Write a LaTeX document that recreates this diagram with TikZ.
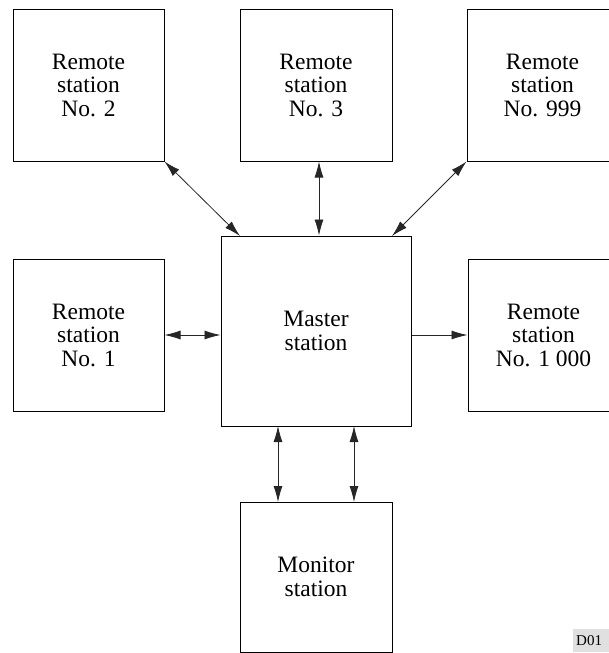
\documentclass[tikz,border=0pt]{standalone}
\usepackage{fontspec}
\setmainfont{Liberation Serif}
\usepackage{tikz}
\usetikzlibrary{arrows.meta}
\tikzset{
    head/.tip={Latex[length=16pt,width=9pt]},
    station/.style={rectangle, draw, line width=1pt, inner sep=0pt, align=center,
        font=\fontsize{23.5}{23.5}\selectfont},
    link/.style={line width=0.8pt, draw=black!85, head-head},
    oneway/.style={line width=0.8pt, draw=black!85, -head}
}

\begin{document}
\begin{tikzpicture}[x=1pt, y=-1pt]
        \useasboundingbox (0,0) rectangle (608,653);
        \node (r2) [station, minimum width=151pt, minimum height=152pt] at (88.5, 85) {Remote\\station\\No. 2};
        \node (r3) [station, minimum width=152pt, minimum height=152pt] at (316, 85) {Remote\\station\\No. 3};
        \node (r999) [station, minimum width=151pt, minimum height=152pt] at (542.5, 85) {Remote\\station\\No. 999};
        \node (r1) [station, minimum width=151pt, minimum height=152pt] at (88.5, 335) {Remote\\station\\No. 1};
        \node (master) [station, minimum width=190pt, minimum height=190pt] at (316, 331) {Master\\station};
        \node (r1000) [station, minimum width=151pt, minimum height=152pt] at (543.5, 335) {Remote\\station\\No. 1 000};
        \node (mon) [station, minimum width=152pt, minimum height=150pt] at (316, 577) {Monitor\\station};
        \coordinate (m2) at (240, 236);
        \coordinate (m999) at (392, 236);
        \coordinate (ma) at (278, 426);
        \coordinate (mb) at (354, 426);
        \coordinate (sa) at (278, 502);
        \coordinate (sb) at (354, 502);
        \draw [link] (r2.south east) -- (m2);
        \draw [link] ([xshift=3pt]r3.south) -- ([xshift=3pt]r3.south |- master.north);
        \draw [link] (r999.south west) -- (m999);
        \draw [link] (r1.east) -- (master.west |- r1.east);
        \draw [oneway] (master.east |- r1000.west) -- (r1000.west);
        \draw [link] (ma) -- (sa);
        \draw [link] (mb) -- (sb);
        \node (code) [fill=black!12, inner sep=0pt, minimum height=23pt, minimum width=40pt,
            text width=34pt, font=\fontsize{15}{15}\selectfont, anchor=north west] at (573, 629) {D01};
\end{tikzpicture}
\end{document}
